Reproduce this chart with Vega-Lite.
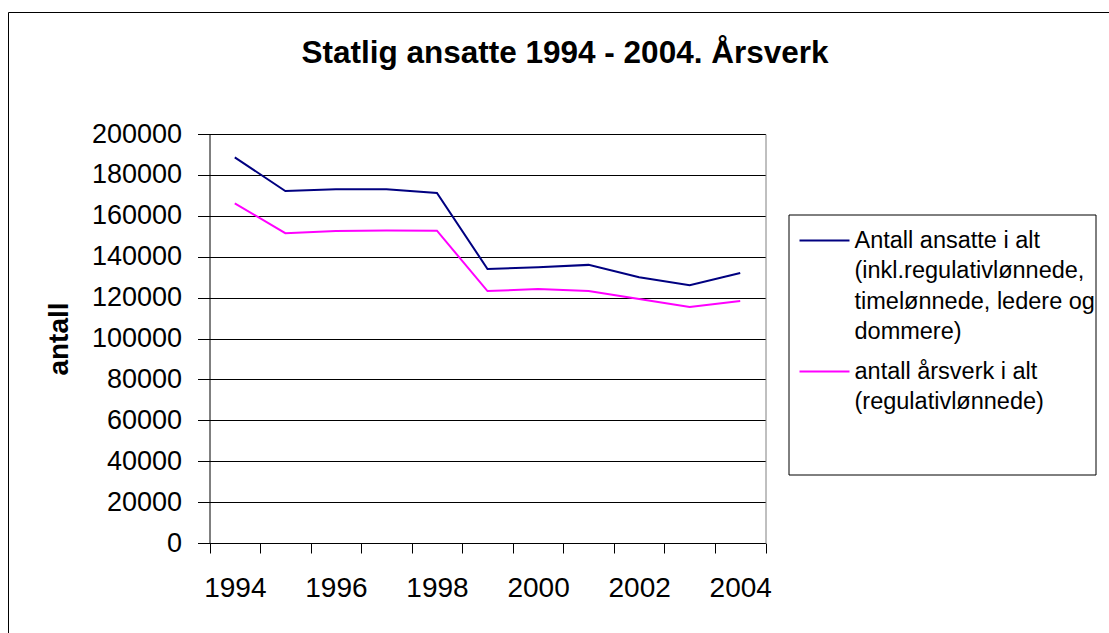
{
  "$schema": "https://vega.github.io/schema/vega-lite/v6.json",
  "autosize": {"type": "none"},
  "padding": {"left": 8, "top": 12, "right": -13, "bottom": -4},
  "width": 1114,
  "height": 625,
  "background": "white",
  "title": {
    "text": "Statlig ansatte 1994 - 2004. Årsverk",
    "anchor": "middle",
    "frame": "group",
    "orient": "top",
    "baseline": "alphabetic",
    "offset": -82.5,
    "fontSize": 31.5,
    "fontWeight": "bold",
    "color": "black"
  },
  "config": {
    "view": {"stroke": "black", "strokeWidth": 1},
    "font": "Liberation Sans"
  },
  "data": {
    "values": [
      {"year": 1994, "series": "Antall ansatte i alt (inkl.regulativlønnede, timelønnede, ledere og dommere)", "value": 188600},
      {"year": 1995, "series": "Antall ansatte i alt (inkl.regulativlønnede, timelønnede, ledere og dommere)", "value": 172100},
      {"year": 1996, "series": "Antall ansatte i alt (inkl.regulativlønnede, timelønnede, ledere og dommere)", "value": 173000},
      {"year": 1997, "series": "Antall ansatte i alt (inkl.regulativlønnede, timelønnede, ledere og dommere)", "value": 173000},
      {"year": 1998, "series": "Antall ansatte i alt (inkl.regulativlønnede, timelønnede, ledere og dommere)", "value": 171200},
      {"year": 1999, "series": "Antall ansatte i alt (inkl.regulativlønnede, timelønnede, ledere og dommere)", "value": 134000},
      {"year": 2000, "series": "Antall ansatte i alt (inkl.regulativlønnede, timelønnede, ledere og dommere)", "value": 134800},
      {"year": 2001, "series": "Antall ansatte i alt (inkl.regulativlønnede, timelønnede, ledere og dommere)", "value": 136000},
      {"year": 2002, "series": "Antall ansatte i alt (inkl.regulativlønnede, timelønnede, ledere og dommere)", "value": 130000},
      {"year": 2003, "series": "Antall ansatte i alt (inkl.regulativlønnede, timelønnede, ledere og dommere)", "value": 126000},
      {"year": 2004, "series": "Antall ansatte i alt (inkl.regulativlønnede, timelønnede, ledere og dommere)", "value": 132000},
      {"year": 1994, "series": "antall årsverk i alt (regulativlønnede)", "value": 166100},
      {"year": 1995, "series": "antall årsverk i alt (regulativlønnede)", "value": 151500},
      {"year": 1996, "series": "antall årsverk i alt (regulativlønnede)", "value": 152600},
      {"year": 1997, "series": "antall årsverk i alt (regulativlønnede)", "value": 152800},
      {"year": 1998, "series": "antall årsverk i alt (regulativlønnede)", "value": 152700},
      {"year": 1999, "series": "antall årsverk i alt (regulativlønnede)", "value": 123200},
      {"year": 2000, "series": "antall årsverk i alt (regulativlønnede)", "value": 124200},
      {"year": 2001, "series": "antall årsverk i alt (regulativlønnede)", "value": 123200},
      {"year": 2002, "series": "antall årsverk i alt (regulativlønnede)", "value": 119300},
      {"year": 2003, "series": "antall årsverk i alt (regulativlønnede)", "value": 115400},
      {"year": 2004, "series": "antall årsverk i alt (regulativlønnede)", "value": 118300}
    ]
  },
  "encoding": {
    "x": {
      "field": "year",
      "type": "quantitative",
      "scale": {"domain": [1993.5, 2004.5], "range": [201.5, 757.5], "nice": false, "zero": false},
      "axis": {
        "title": null,
        "values": [1993.5, 1994.5, 1995.5, 1996.5, 1997.5, 1998.5, 1999.5, 2000.5, 2001.5, 2002.5, 2003.5, 2004.5],
        "offset": -94,
        "tickSize": 10,
        "tickColor": "black",
        "domainColor": "black",
        "labelExpr": "(datum.value + 0.5) % 2 == 0 && datum.value < 2004 ? format(datum.value + 0.5, 'd') : ''",
        "labelOffset": 25.3,
        "labelFontSize": 28,
        "labelColor": "black",
        "labelPadding": 21,
        "labelOverlap": false,
        "labelFlush": false,
        "grid": false
      }
    }
  },
  "layer": [
    {
      "mark": {"type": "line", "strokeWidth": 2},
      "encoding": {
        "y": {
          "field": "value",
          "type": "quantitative",
          "scale": {"domain": [0, 200000], "range": [531, 122], "nice": false},
          "axis": {
            "title": "antall",
            "values": [0, 20000, 40000, 60000, 80000, 100000, 120000, 140000, 160000, 180000, 200000],
            "format": "d",
            "offset": -201.5,
            "tickSize": 12,
            "tickColor": "black",
            "domainColor": "black",
            "labelFontSize": 27,
            "labelColor": "black",
            "labelPadding": 16,
            "labelFlush": false,
            "labelOverlap": false,
            "grid": true,
            "gridColor": "black",
            "titleFontSize": 28,
            "titleFontWeight": "bold",
            "titleColor": "black",
            "titlePadding": 18
          }
        },
        "color": {
          "field": "series",
          "type": "nominal",
          "scale": {
            "domain": ["Antall ansatte i alt (inkl.regulativlønnede, timelønnede, ledere og dommere)", "antall årsverk i alt (regulativlønnede)"],
            "range": ["#000080", "#FF00FF"]
          },
          "legend": {
            "orient": "none",
            "legendX": 780.5,
            "legendY": 202.5,
            "title": null,
            "strokeColor": "black",
            "fillColor": "white",
            "padding": 0,
            "symbolOffset": 10,
            "symbolType": "stroke",
            "symbolSize": 2500,
            "symbolStrokeWidth": 2,
            "labelFontSize": 23.5,
            "labelColor": "black",
            "labelLimit": 600,
            "labelOffset": 4,
            "rowPadding": 2,
            "labelExpr": "indexof(datum.label, 'Antall ansatte') == 0 ? ['Antall ansatte i alt', '(inkl.regulativlønnede,', 'timelønnede, ledere og', 'dommere)'] : ['antall årsverk i alt', '(regulativlønnede)', '', '']",
            "encode": {
              "labels": {"update": {"lineHeight": {"value": 30.5}}}
            }
          }
        }
      }
    },
    {
      "mark": {"type": "point", "opacity": 0},
      "encoding": {
        "y": {
          "field": "value",
          "type": "quantitative",
          "axis": {
            "orient": "right",
            "offset": -356.5,
            "title": null,
            "domainColor": "#808080",
            "ticks": false,
            "labels": false,
            "grid": false
          }
        }
      }
    }
  ],
  "resolve": {"axis": {"y": "independent"}}
}
